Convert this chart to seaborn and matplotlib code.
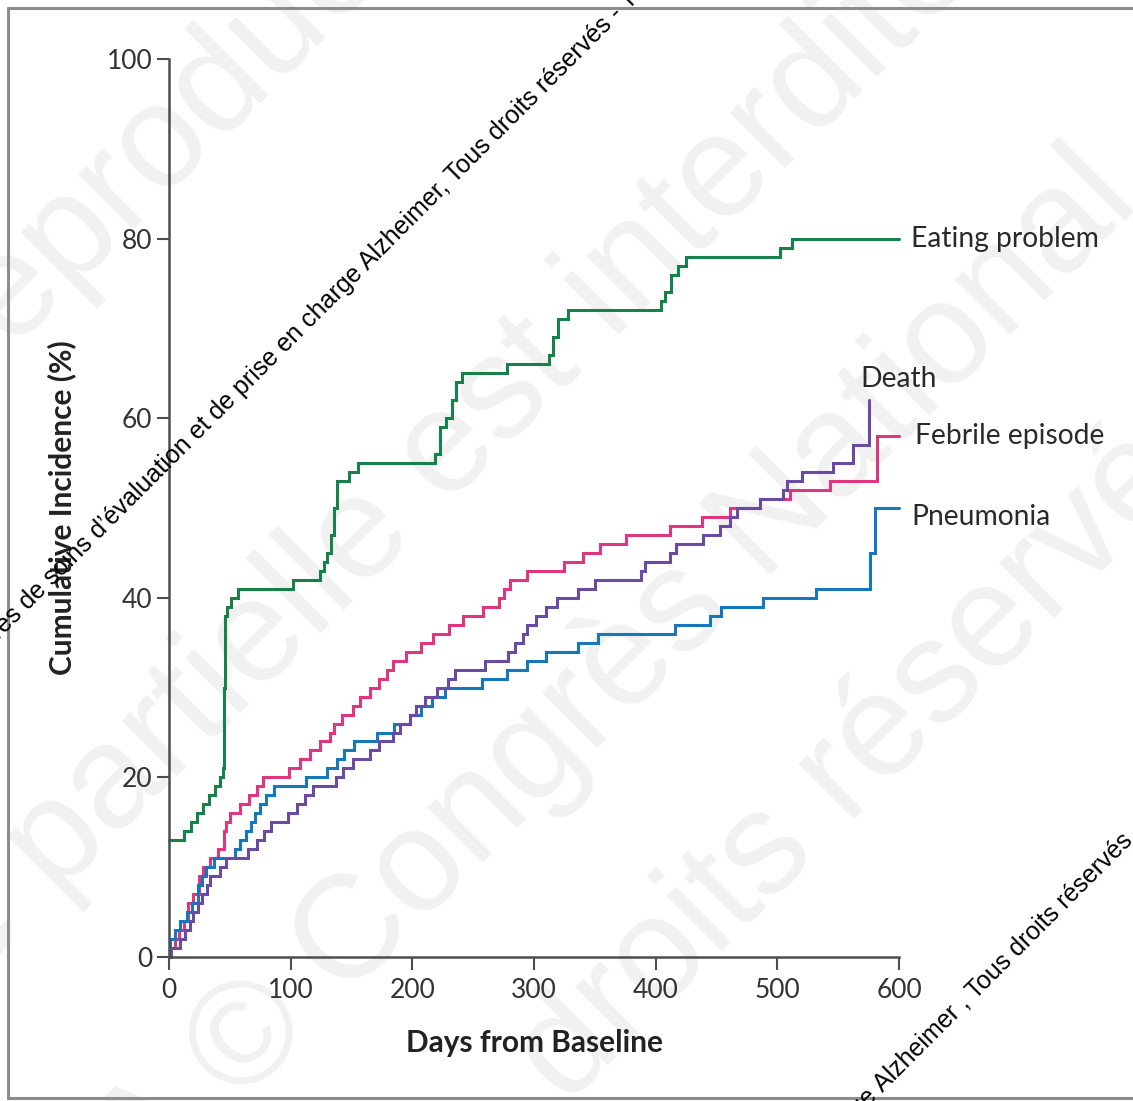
import numpy as np
import pandas as pd
import matplotlib
matplotlib.use("Agg")
import matplotlib.pyplot as plt
import seaborn as sns
from matplotlib.lines import Line2D
from matplotlib.transforms import IdentityTransform

# ---------------- data ----------------
eating_days = [0, 12, 18, 23, 28, 33, 38, 42, 44, 45, 46, 48, 51, 57, 102, 124, 127, 130,
               133, 136, 138, 148, 155, 219, 223, 228, 233, 236, 241, 278, 312, 316, 320,
               328, 404, 408, 413, 418, 425, 502, 512, 600]
eating_pct = [13, 14, 15, 16, 17, 18, 19, 20, 21, 30, 38, 39, 40, 41, 42, 43, 44, 45,
              47, 50, 53, 54, 55, 56, 59, 60, 62, 64, 65, 66, 67, 69, 71,
              72, 73, 74, 76, 77, 78, 79, 80, 80]

febrile_days = [0, 1, 5, 8, 12, 16, 20, 25, 28, 34, 40, 45, 47, 50, 58, 66, 72, 77, 99, 108,
                116, 124, 132, 136, 142, 151, 157, 165, 173, 179, 184, 195, 207, 217, 230,
                242, 258, 271, 275, 280, 294, 325, 340, 354, 376, 412, 438, 461, 486, 510,
                543, 582, 600]
febrile_pct = [0, 1, 2, 3, 4, 6, 7, 9, 10, 11, 12, 14, 15, 16, 17, 18, 19, 20, 21, 22,
               23, 24, 25, 26, 27, 28, 29, 30, 31, 32, 33, 34, 35, 36, 37,
               38, 39, 40, 41, 42, 43, 44, 45, 46, 47, 48, 49, 50, 51, 52,
               53, 58, 58]

pneumonia_days = [0, 1, 5, 9, 15, 19, 24, 27, 30, 37, 54, 58, 63, 67, 71, 75, 80, 86, 113,
                  130, 138, 144, 152, 171, 185, 198, 207, 216, 227, 257, 278, 294, 310, 336,
                  353, 416, 445, 454, 488, 532, 576, 580, 600]
pneumonia_pct = [0, 2, 3, 4, 5, 6, 8, 9, 10, 11, 12, 13, 14, 15, 16, 17, 18, 19, 20,
                 21, 22, 23, 24, 25, 26, 27, 28, 29, 30, 31, 32, 33, 34, 35,
                 36, 37, 38, 39, 40, 41, 45, 50, 50]

death_days = [0, 2, 9, 13, 17, 20, 24, 27, 31, 34, 42, 47, 65, 72, 78, 84, 98, 105, 112,
              118, 137, 143, 151, 165, 173, 184, 190, 198, 203, 210, 220, 229, 235, 260,
              279, 284, 291, 294, 302, 310, 319, 336, 350, 388, 391, 412, 417, 439, 453,
              461, 467, 486, 505, 508, 520, 546, 562, 575]
death_pct = [0, 1, 2, 3, 4, 5, 6, 7, 8, 9, 10, 11, 12, 13, 14, 15, 16, 17, 18,
             19, 20, 21, 22, 23, 24, 25, 26, 27, 28, 29, 30, 31, 32, 33,
             34, 35, 36, 37, 38, 39, 40, 41, 42, 43, 44, 45, 46, 47, 48,
             49, 50, 51, 52, 53, 54, 55, 57, 62]

outcomes = ["Eating problem", "Febrile episode", "Pneumonia", "Death"]
x_ticks = [0, 100, 200, 300, 400, 500, 600]
y_ticks = [0, 20, 40, 60, 80, 100]

colors = {"Eating problem": "#16824a", "Febrile episode": "#e0357f",
          "Pneumonia": "#1777bd", "Death": "#6a4aa2"}

frames = []
for name, d, v in [("Eating problem", eating_days, eating_pct),
                   ("Febrile episode", febrile_days, febrile_pct),
                   ("Pneumonia", pneumonia_days, pneumonia_pct),
                   ("Death", death_days, death_pct)]:
    frames.append(pd.DataFrame({"Days": d, "Incidence": v, "Outcome": name}))
df = pd.concat(frames, ignore_index=True)

# ---------------- style ----------------
sns.set_style("ticks")
plt.rcParams["font.family"] = ["Lato", "DejaVu Sans"]

W, H = 1133, 1101
fig = plt.figure(figsize=(W / 100, H / 100), dpi=100)
fig.patch.set_facecolor("white")
ax = fig.add_axes([169 / W, 144 / H, 730 / W, 898 / H])
ax.set_facecolor("none")

sns.lineplot(data=df, x="Days", y="Incidence", hue="Outcome", hue_order=outcomes,
             palette=colors, estimator=None, sort=False, drawstyle="steps-post",
             linewidth=2.2, legend=False, ax=ax)
for ln in ax.lines:
    ln.set_clip_on(False)
    ln.set_solid_joinstyle("miter")

ax.set_xlim(0, 600)
ax.set_ylim(0, 100)
ax.set_xticks(x_ticks)
ax.set_yticks(y_ticks)
sns.despine(ax=ax)
for s in ["left", "bottom"]:
    ax.spines[s].set_color("#4d4d4d")
    ax.spines[s].set_linewidth(1.8)
ax.tick_params(axis="both", direction="out", length=9, width=1.5, color="#4d4d4d",
               labelsize=19, labelcolor="#333333")
ax.tick_params(axis="y", pad=3)
ax.tick_params(axis="x", pad=6)

ax.set_xlabel("Days from Baseline", fontsize=21.5, fontweight="bold", color="#222222")
ax.set_ylabel("Cumulative Incidence (%)", fontsize=21.5, fontweight="bold", color="#222222")
ax.xaxis.set_label_coords(0.5, -(1043 - 957) / 898)
ax.xaxis.label.set_va("center")
ax.yaxis.set_label_coords(-(169 - 62) / 730, 0.5)
ax.yaxis.label.set_va("center")

# end labels
lab_kw = dict(fontsize=20.3, color="#2a2a2a", clip_on=False)
ax.text(610, 80, "Eating problem", ha="left", va="center", **lab_kw)
ax.text(613, 58, "Febrile episode", ha="left", va="center", **lab_kw)
ax.text(610, 49, "Pneumonia", ha="left", va="center", **lab_kw)
ax.text(600, 64.4, "Death", ha="center", va="center", **lab_kw)

# ---------------- faint background watermark ----------------
ident = IdentityTransform()
wm_kw = dict(transform=ident, rotation=45, rotation_mode="anchor", va="center",
             color="#f1f1f1", fontsize=105, family=["Liberation Sans", "DejaVu Sans"],
             zorder=-5)
def diag(x, s):
    # point (x, y_top) with x + y_top = s, converted to display coords
    return x, H - (s - x)
fig.text(*diag(-330, 310), "Toute reproduction", ha="left", **wm_kw)
fig.text(*diag(-80, 900), "le partielle est interdite", ha="left", **wm_kw)
fig.text(*diag(120, 1290), "A © Congrès National", ha="left", **wm_kw)
fig.text(*diag(540, 1620), "droits réservés", ha="left", **wm_kw)

# ---------------- frame ----------------
fig.add_artist(Line2D([8, W + 5], [H - 8, H - 8], transform=ident, color="#8c8c8c", lw=2.2))
fig.add_artist(Line2D([8, 8], [H - 8, 3], transform=ident, color="#8c8c8c", lw=2.2))
fig.add_artist(Line2D([8, W + 5], [3, 3], transform=ident, color="#8c8c8c", lw=2.2))

# ---------------- dark rotated watermark text ----------------
bk_kw = dict(transform=ident, rotation=45, rotation_mode="anchor", va="center",
             color="#000000", fontsize=18, family=["Liberation Sans", "DejaVu Sans"],
             zorder=20)
fig.text(*diag(-43, 630),
         "Centres de soins d\u2019évaluation et de prise en charge Alzheimer, "
         "Tous droits réservés - Tous droits réservés", ha="left", **bk_kw)
fig.text(*diag(878, 1966), "Alzheimer , Tous droits réservés - Tous droits", ha="left", **bk_kw)
fig.text(*diag(878, 1966), "prise en charge ", ha="right", **bk_kw)

fig.savefig("out.png", dpi=100)
